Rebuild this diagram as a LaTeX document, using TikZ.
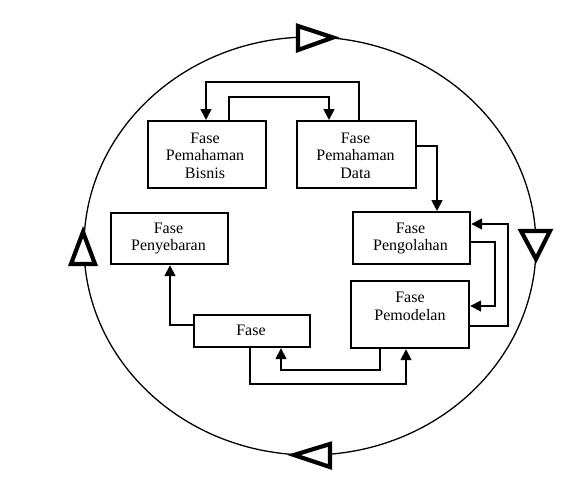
\documentclass[tikz,border=0pt]{standalone}
\usepackage{fontspec}
\setmainfont{Liberation Serif}
\usetikzlibrary{arrows.meta,calc,shapes.geometric}
\begin{document}
\begin{tikzpicture}[x=1pt,y=-1pt,
  box/.style={draw,line width=2.2pt,rectangle,inner sep=0pt,anchor=north west},
  txt/.style={align=center,font=\fontsize{16}{17.5}\selectfont,inner sep=0pt},
  arr/.style={line width=1.7pt,-{Triangle[width=11pt,length=11pt]}},
  bigtri/.style={line width=4.2pt,fill=white,line join=miter}]
\useasboundingbox (0,0) rectangle (586,480);
% big cycle
\node[draw,ellipse,line width=1.3pt,minimum width=452pt,minimum height=418pt,inner sep=0pt] (cyc) at (310,246) {};
% boxes
\node[box,minimum width=118pt,minimum height=67pt] (bisnis) at (147,120) {};
\node[box,minimum width=119pt,minimum height=67pt] (data) at (296,120) {};
\node[box,minimum width=117pt,minimum height=52pt] (pengo) at (352,211) {};
\node[box,minimum width=118pt,minimum height=67pt] (pemo) at (350,280) {};
\node[box,minimum width=117pt,minimum height=51pt] (penye) at (110,212) {};
\node[box,minimum width=116pt,minimum height=32pt] (fase) at (193,314) {};
% texts
\node[txt] (tbisnis) at (205,155.5) {Fase\\Pemahaman\\Bisnis};
\node[txt] (tdata) at (355.5,155.5) {Fase\\Pemahaman\\Data};
\node[txt] (tpengo) at (410.5,238.5) {Fase\\Pengolahan};
\node[txt] (tpemo) at (410,306.5) {Fase\\Pemodelan};
\node[txt] (tpenye) at (168.5,238.5) {Fase\\Penyebaran};
\node[txt] (tfase) at (251,330.5) {Fase};
% bend points
\coordinate (c1) at (359,82);
\coordinate (c2) at (206,82);
\coordinate (c3) at (229,97);
\coordinate (c4) at (329,97);
\coordinate (c5) at (437,146);
\coordinate (c6) at (495,242);
\coordinate (c7) at (495,306);
\coordinate (c8) at (508,326);
\coordinate (c9) at (508,224);
\coordinate (c10) at (380,370);
\coordinate (c11) at (281,370);
\coordinate (c12) at (250,384);
\coordinate (c13) at (406,384);
\coordinate (c14) at (170,325);
% connectors
\draw[arr] (c1 |- data.north) -- (c1) -- (c2) -- (c2 |- bisnis.north);
\draw[arr] (c3 |- bisnis.north) -- (c3) -- (c4) -- (c4 |- data.north);
\draw[arr] (data.east |- c5) -- (c5) -- (c5 |- pengo.north);
\draw[arr] (pengo.east |- c6) -- (c6) -- (c7) -- (pemo.east |- c7);
\draw[arr] (pemo.east |- c8) -- (c8) -- (c9) -- (pengo.east |- c9);
\draw[arr] (c10 |- pemo.south) -- (c10) -- (c11) -- (c11 |- fase.south);
\draw[arr] (c12 |- fase.south) -- (c12) -- (c13) -- (c13 |- pemo.south);
\draw[arr] (fase.west |- c14) -- (c14) -- (c14 |- penye.south);
% cycle direction markers
\draw[bigtri] (298,26) -- (333,37.5) -- (298,50) -- cycle;
\draw[bigtri] (521,231) -- (550,231) -- (536,259) -- cycle;
\draw[bigtri] (330,444) -- (294,455) -- (330,467) -- cycle;
\draw[bigtri] (71,264) -- (83,232) -- (95,264) -- cycle;
\end{tikzpicture}
\end{document}
